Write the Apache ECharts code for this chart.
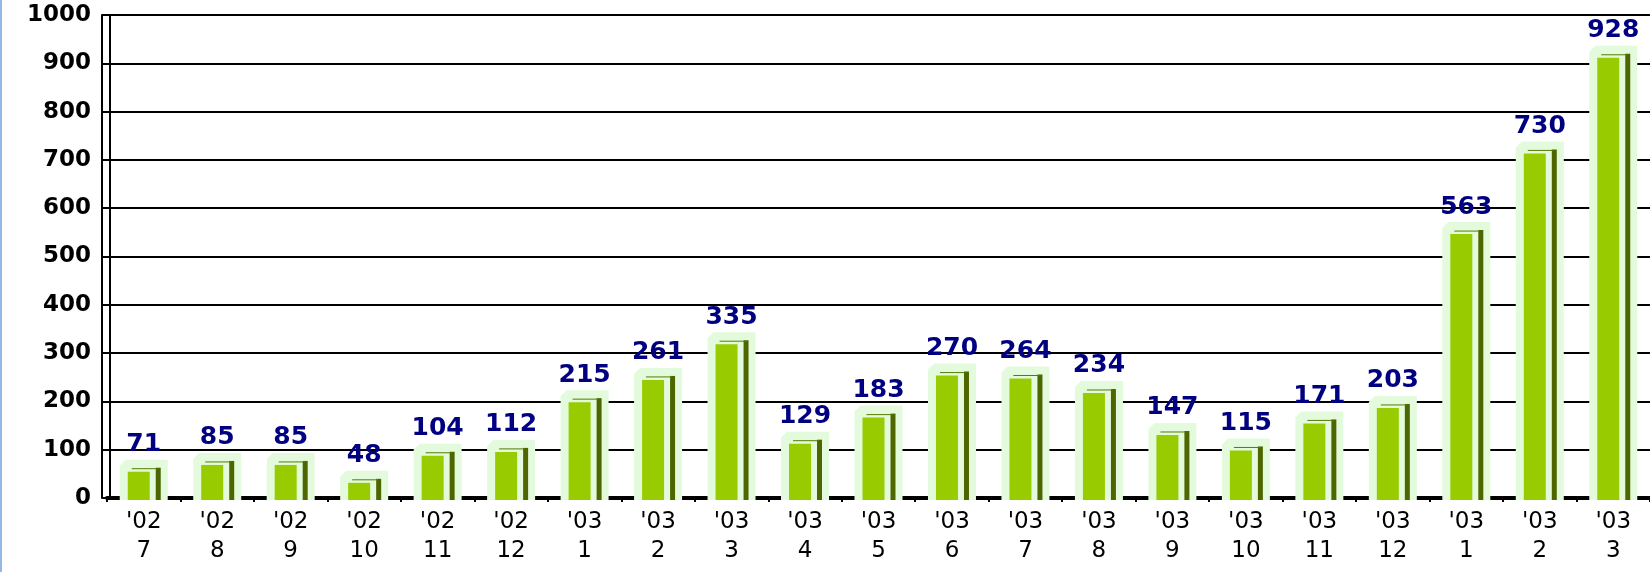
<!DOCTYPE html>
<html>
<head>
<meta charset="utf-8">
<script src="https://cdn.jsdelivr.net/npm/echarts@6/dist/echarts.min.js"></script>
<style>
  body { margin: 0; background: #fff; }
  #chart { width: 1650px; height: 572px; position: relative; }
  .edge { position: absolute; left: 0; top: 0; width: 2px; height: 572px; background: #93b8e6; z-index: 5; }
</style>
</head>
<body>
<div class="edge"></div>
<div id="chart"></div>
<script>
  // 年份 / 月份
  var years = ["'02", "'02", "'02", "'02", "'02", "'02", "'03", "'03", "'03", "'03", "'03",
               "'03", "'03", "'03", "'03", "'03", "'03", "'03", "'03", "'03", "'03"];
  var months = ['7', '8', '9', '10', '11', '12', '1', '2', '3', '4', '5',
                '6', '7', '8', '9', '10', '11', '12', '1', '2', '3'];
  var values = [71, 85, 85, 48, 104, 112, 215, 261, 335, 129, 183,
                270, 264, 234, 147, 115, 171, 203, 563, 730, 928];
  var yTicks = { min: 0, max: 1000, interval: 100 };

  var categories = years.map(function (y, i) { return y + '\n' + months[i]; });

  // 伪3D柱子
  function renderBar(params, api) {
    var idx = api.value(0), v = api.value(1);
    var top = api.coord([idx, v]);
    var base = api.coord([idx, 0]);
    var c = top[0], ty = top[1], by = base[1] + 2;
    return {
      type: 'group',
      children: [
        { type: 'polygon', shape: { points: [[c - 24, ty + 2], [c - 18, ty - 4], [c + 24, ty - 4], [c + 24, by], [c - 24, by]] },
          style: { fill: '#e3fbdc' } },
        { type: 'rect', shape: { x: c - 16, y: ty + 8, width: 22, height: by - ty - 8 }, style: { fill: '#99cc00' } },
        { type: 'rect', shape: { x: c + 12, y: ty + 4, width: 5, height: by - ty - 4 }, style: { fill: '#4d6600' } },
        { type: 'line', shape: { x1: c - 12, y1: ty + 5, x2: c + 14, y2: ty + 5 }, style: { stroke: '#5a7a00', lineWidth: 1 } },
        { type: 'text', x: c, y: ty - 19,
          style: { text: String(v), align: 'center', verticalAlign: 'middle', fill: '#000080',
                   font: 'bold 25px "DejaVu Sans"' } }
      ]
    };
  }

  var myChart = echarts.init(document.getElementById('chart'));
  myChart.setOption({
    animation: false,
    grid: { left: 107, top: 15, width: 1546, height: 483 },
    xAxis: {
      type: 'category',
      data: categories,
      axisLine: { lineStyle: { color: '#000', width: 4 } },
      axisTick: { show: true, length: 4, lineStyle: { color: '#000', width: 2 } },
      axisLabel: { color: '#000', fontFamily: 'DejaVu Sans', fontSize: 23, lineHeight: 29, margin: 10, interval: 0 }
    },
    yAxis: [{
      type: 'value',
      min: yTicks.min, max: yTicks.max, interval: yTicks.interval,
      offset: -3,
      axisLine: { show: true, lineStyle: { color: '#000', width: 2 } },
      axisTick: { show: false },
      axisLabel: { color: '#000', fontFamily: 'DejaVu Sans', fontWeight: 'bold', fontSize: 23, margin: 19,
                   formatter: function (v) { return String(v); } },
      splitLine: { show: true, lineStyle: { color: '#000', width: 2 } }
    }, {
      type: 'value',
      min: yTicks.min, max: yTicks.max, interval: yTicks.interval,
      position: 'left',
      offset: 5,
      axisLine: { show: true, lineStyle: { color: '#000', width: 2 } },
      axisTick: { show: true, inside: true, length: 8, lineStyle: { color: '#000', width: 2 } },
      axisLabel: { show: false },
      splitLine: { show: false }
    }],
    series: [{
      type: 'custom',
      renderItem: renderBar,
      encode: { x: 0, y: 1 },
      data: values.map(function (v, i) { return [i, v]; })
    }]
  });
</script>
</body>
</html>
